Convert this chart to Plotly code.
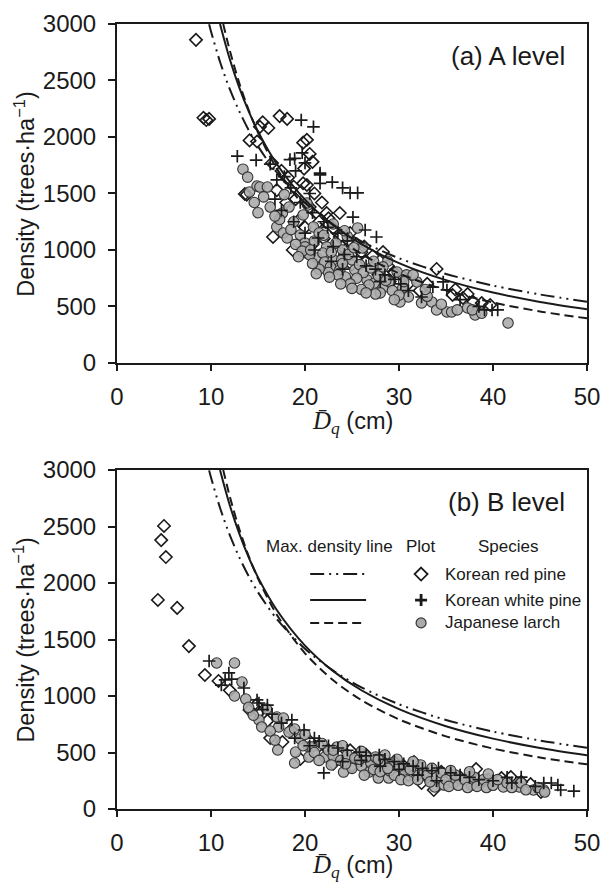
import plotly.graph_objects as go

# ---------------- maximum density lines ----------------
line_rp_d = [9.8, 10, 11, 12, 13, 14, 15, 17, 20, 23, 26, 30, 35, 40, 45, 50]
line_rp_n = [2997, 2934, 2655, 2423, 2229, 2062, 1918, 1682, 1418, 1225, 1077, 927, 788, 685, 606, 542]
line_wp_d = [10.96, 11, 12, 13, 14, 15, 17, 20, 23, 26, 30, 35, 40, 45, 50]
line_wp_n = [3000, 2987, 2688, 2439, 2229, 2050, 1761, 1446, 1220, 1051, 884, 733, 623, 540, 475]
line_jl_d = [11.3, 12, 13, 14, 15, 17, 20, 23, 26, 30, 35, 40, 45, 50]
line_jl_n = [3000, 2765, 2479, 2241, 2040, 1720, 1378, 1139, 964, 793, 643, 535, 456, 395]

# ---------------- (a) A level plots ----------------
a_rp_d = [8.4, 9.2, 9.5, 9.8, 14.1, 14.9, 15.2, 15.5, 16.1, 17.3, 18.1, 20.2, 19.8, 20.5, 20.8, 19.9,
          16.5, 17.0, 13.8, 19.8, 18.2, 17.5, 18.8, 20.2, 21.0, 19.0, 18.0, 16.6, 18.7, 13.6, 20.5, 21.8,
          22.3, 23.7, 23.0, 23.7, 24.8, 22.5, 21.5, 20.0, 19.3, 25.5, 26.0, 27.2, 28.3, 26.5, 25.0, 24.3,
          28.8, 29.5, 30.5, 31.0, 29.0, 27.8, 34.0, 35.7, 36.8, 37.9, 38.8, 39.7, 37.3, 36.0, 33.0, 32.2,
          26.3, 22.0, 24.0, 20.8]
a_rp_n = [2860, 2170, 2150, 2160, 1970, 1960, 2090, 2130, 2080, 2185, 2160, 1975, 1950, 1850, 1780, 1720,
          1770, 1530, 1490, 1590, 1640, 1700, 1560, 1575, 1500, 1450, 1420, 1115, 1000, 1495, 1380, 1420,
          1327, 1327, 1195, 1115, 1150, 1280, 1250, 1200, 1260, 1050, 980, 947, 982, 900, 870, 1000,
          860, 800, 760, 700, 720, 780, 832, 602, 575, 540, 530, 513, 610, 650, 700, 640,
          1030, 1100, 930, 1050]

a_wp_d = [12.8, 14.8, 16.3, 17.0, 18.4, 18.9, 19.6, 20.9, 19.7, 20.0, 21.6, 21.6, 22.9, 24.0, 24.8, 25.6,
          21.6, 20.5, 19.0, 17.8, 18.5, 19.5, 20.8, 22.0, 21.4, 23.0, 24.2, 25.1, 26.4, 27.6, 22.4, 23.5,
          24.5, 25.5, 26.5, 27.5, 28.5, 29.5, 30.2, 28.0, 31.0, 33.6, 32.4, 34.7, 35.1, 39.1, 39.9, 40.5,
          38.5, 36.5, 17.5, 18.8, 20.0, 21.0, 16.8, 22.8, 24.0]
a_wp_n = [1830, 1795, 1760, 1620, 1800, 1810, 2150, 2090, 1860, 1770, 1680, 1590, 1600, 1550, 1505, 1505,
          1665, 1500, 1700, 1650, 1550, 1420, 1330, 1250, 1106, 1030, 960, 1290, 1177, 1115, 1200, 1150,
          1080, 940, 860, 830, 780, 740, 700, 720, 640, 672, 584, 717, 646, 469, 469, 469,
          500, 560, 1350, 1250, 1150, 1000, 1450, 900, 830]

a_jl_d = [13.4, 13.9, 14.1, 14.9, 15.2, 16.0, 16.3, 15.6, 14.6, 17.6, 17.0, 17.7, 18.1, 20.3, 19.5, 20.0,
          20.2, 21.3, 21.9, 22.3, 20.9, 20.2, 20.0, 20.5, 21.9, 22.1, 23.0, 23.9, 25.0, 22.7, 23.7, 24.3,
          25.3, 26.1, 25.6, 26.6, 27.4, 28.3, 29.0, 29.8, 30.4, 31.0, 31.9, 30.1, 32.4, 33.5, 34.0, 35.1,
          35.6, 37.3, 38.1, 41.6, 18.8, 19.0, 18.5, 17.3, 16.8, 19.7, 21.0, 21.5, 22.8, 23.3, 24.0, 24.6,
          25.8, 26.2, 27.0, 27.8, 28.6, 29.3, 30.0, 28.0, 26.8, 25.5, 24.8, 23.5, 22.5, 21.5, 20.8, 27.3,
          28.8, 30.8, 31.5, 33.0, 34.5, 36.2, 37.8, 38.8, 22.0, 23.0, 24.5, 19.8, 18.3, 17.8, 15.0, 26.0,
          27.5, 29.5, 24.0, 25.2, 28.3, 30.5, 32.8, 21.2, 22.6, 23.8, 25.0, 26.5, 19.3, 20.6, 24.2]
a_jl_n = [1715, 1645, 1513, 1566, 1557, 1557, 1380, 1470, 1420, 1327, 1204, 1150, 1106, 1398, 1133, 1062,
          973, 929, 867, 1027, 1204, 1416, 1027, 956, 973, 894, 912, 912, 912, 850, 823, 761,
          823, 1018, 1195, 735, 708, 664, 717, 805, 664, 584, 717, 540, 531, 540, 469, 451,
          451, 487, 425, 354, 1250, 1050, 1180, 1270, 1300, 990, 1080, 1150, 980, 1060, 1000, 960,
          870, 800, 840, 770, 730, 640, 600, 620, 690, 750, 700, 780, 800, 830, 880, 900,
          900, 780, 780, 590, 520, 470, 470, 440, 1130, 1230, 1120, 1310, 1380, 1490, 1330, 650,
          610, 560, 880, 1020, 850, 720, 650, 790, 760, 700, 660, 620, 940, 1000, 1170]

# ---------------- (b) B level plots ----------------
b_rp_d = [5.0, 4.7, 5.2, 4.35, 6.4, 7.65, 9.35, 10.8, 14.1, 15.1, 16.3, 17.6, 19.5, 14.8, 20.5, 21.5,
          22.5, 23.5, 24.8, 25.5, 26.5, 27.5, 28.5, 29.5, 30.5, 31.6, 32.4, 33.7, 34.5, 35.5, 36.5, 38.2,
          40.9, 41.9, 43.0, 44.0, 45.1, 37.5, 39.5, 33.0, 31.0, 29.0, 27.0, 25.0, 23.0, 18.5, 16.0, 12.0]
b_rp_n = [2505, 2380, 2230, 1850, 1780, 1442, 1186, 1133, 876, 858, 628, 593, 442, 920, 600, 560,
          520, 480, 520, 450, 480, 440, 400, 420, 380, 416, 230, 168, 330, 300, 280, 354,
          274, 283, 240, 220, 150, 240, 260, 280, 300, 330, 350, 380, 400, 700, 780, 1050]

b_wp_d = [9.8, 11.9, 11.5, 11.1, 12.2, 13.5, 14.9, 15.1, 16.0, 15.5, 16.5, 18.6, 19.9, 18.9, 21.0, 22.0,
          21.5, 22.5, 23.5, 24.5, 25.8, 26.5, 27.9, 28.5, 29.5, 30.5, 31.5, 32.5, 33.5, 34.2, 35.5, 36.5,
          37.5, 38.5, 40.0, 41.5, 43.0, 45.4, 46.2, 46.9, 47.2, 48.6, 42.0, 44.5, 24.0, 26.0, 28.0, 30.0,
          32.0, 34.0, 20.5, 17.5]
b_wp_n = [1310, 1204, 1142, 1097, 1150, 1071, 965, 938, 920, 880, 840, 788, 699, 628, 628, 319,
          600, 560, 540, 520, 504, 470, 478, 440, 420, 400, 380, 360, 340, 363, 320, 300,
          280, 260, 250, 280, 283, 230, 230, 212, 168, 159, 230, 200, 420, 430, 380, 350,
          300, 250, 560, 760]

b_jl_d = [10.6, 12.5, 13.3, 12.5, 13.7, 15.9, 15.1, 15.4, 17.0, 17.7, 17.2, 18.3, 18.9, 17.1, 19.0, 18.9,
          20.4, 20.4, 20.7, 22.1, 23.4, 24.1, 25.7, 26.8, 27.8, 28.9, 29.2, 28.5, 30.6, 31.6, 32.7, 33.8,
          34.8, 35.8, 36.6, 37.7, 38.7, 39.8, 41.1, 42.8, 44.3, 45.4, 19.5, 20.0, 21.0, 21.5, 22.5, 23.0,
          23.8, 24.5, 25.0, 25.3, 26.0, 26.3, 27.0, 27.3, 28.0, 28.2, 29.0, 29.5, 30.0, 30.2, 31.0, 31.2,
          32.0, 32.3, 33.0, 33.3, 34.0, 34.5, 35.0, 35.3, 36.0, 36.3, 37.0, 37.3, 38.0, 38.3, 39.0, 39.3,
          40.0, 40.5, 41.5, 42.0, 43.0, 43.5, 44.8, 45.5, 16.3, 16.8, 14.5, 14.0, 19.8, 22.8, 24.3, 25.8,
          26.5, 27.5, 28.8, 29.8, 31.5, 33.5, 35.5, 37.5, 39.5, 21.8, 23.0, 24.0, 26.0, 27.8]
b_jl_n = [1292, 1292, 1124, 1000, 973, 885, 788, 726, 814, 805, 726, 681, 708, 522, 504, 407,
          549, 460, 549, 460, 549, 327, 416, 327, 274, 274, 407, 478, 345, 301, 327, 195,
          212, 230, 257, 212, 230, 239, 195, 195, 168, 168, 620, 660, 500, 430, 520, 470,
          430, 480, 360, 450, 380, 300, 410, 350, 330, 420, 340, 300, 380, 260, 250, 350,
          260, 390, 300, 240, 280, 320, 260, 200, 300, 210, 260, 190, 280, 200, 260, 190,
          210, 260, 230, 190, 230, 170, 190, 150, 690, 610, 830, 900, 560, 390, 400, 440,
          460, 460, 360, 440, 420, 360, 340, 330, 310, 580, 520, 560, 510, 440]

# ---------------- text ----------------
species = ["Korean red pine", "Korean white pine", "Japanese larch"]
panel_titles = ["(a) A level", "(b) B level"]
x_ticks = [0, 10, 20, 30, 40, 50]
y_ticks = [0, 500, 1000, 1500, 2000, 2500, 3000]

INK = "#1a1a1a"
SANS = "Liberation Sans"
DASHDOT = "14px,5px,2px,5px,2px,5px"
DASHED = "9px,5px"

fig = go.Figure()

panels = [
    ("x", "y", (a_rp_d, a_rp_n), (a_wp_d, a_wp_n), (a_jl_d, a_jl_n)),
    ("x2", "y2", (b_rp_d, b_rp_n), (b_wp_d, b_wp_n), (b_jl_d, b_jl_n)),
]

for xa, ya, rp, wp, jl in panels:
    fig.add_trace(go.Scatter(
        x=rp[0], y=rp[1], xaxis=xa, yaxis=ya, mode="markers", name=species[0],
        marker=dict(symbol="diamond-open", size=9.5, color=INK, line=dict(width=1.6, color=INK)),
    ))
    fig.add_trace(go.Scatter(
        x=jl[0], y=jl[1], xaxis=xa, yaxis=ya, mode="markers", name=species[2],
        marker=dict(symbol="circle", size=10.5, color="rgba(172,172,172,0.9)",
                    line=dict(width=1.1, color="#333333")),
    ))
    fig.add_trace(go.Scatter(
        x=wp[0], y=wp[1], xaxis=xa, yaxis=ya, mode="markers", name=species[1],
        marker=dict(symbol="cross-thin", size=9, color=INK, line=dict(width=1.7, color=INK)),
    ))
    for d, n, dash in [(line_rp_d, line_rp_n, DASHDOT),
                       (line_wp_d, line_wp_n, "solid"),
                       (line_jl_d, line_jl_n, DASHED)]:
        fig.add_trace(go.Scatter(
            x=d, y=n, xaxis=xa, yaxis=ya, mode="lines",
            line=dict(color=INK, width=2, dash=dash, shape="spline", smoothing=0.8),
        ))

axis_common = dict(
    showline=True, linewidth=2, linecolor=INK, mirror=True,
    ticks="outside", tickwidth=2, tickcolor=INK,
    showgrid=False, zeroline=False, automargin=False,
    tickfont=dict(family=SANS, size=24, color=INK),
)
x_common = dict(axis_common, range=[0, 50], tickvals=x_ticks, ticklen=6, ticklabelstandoff=5)
y_common = dict(axis_common, range=[0, 3000], tickvals=y_ticks, ticklen=7, ticklabelstandoff=7)

fig.update_layout(
    width=601, height=883,
    margin=dict(l=117, r=14, t=24, b=74),
    paper_bgcolor="white", plot_bgcolor="white",
    showlegend=False,
    xaxis=dict(x_common, domain=[0, 1], anchor="y"),
    yaxis=dict(y_common, domain=[0.5682, 1], anchor="x"),
    xaxis2=dict(x_common, domain=[0, 1], anchor="y2"),
    yaxis2=dict(y_common, domain=[0, 0.4318], anchor="x2"),
    font=dict(family=SANS, color=INK),
)


def label(xref, yref, x, y, text, size, xanchor="center", **kw):
    return dict(xref=xref, yref=yref, x=x, y=y, text=text, showarrow=False,
                xanchor=xanchor, yanchor="middle",
                font=dict(family=SANS, size=size, color=INK), **kw)


ytitle = "Density (trees·ha<sup>−1</sup>)"
xtitle = ('<span style="font-family:Liberation Serif;font-size:25px"><i>D̄</i><sub><i>q</i></sub></span> (cm)')
ann = []
for ypos in (0.784, 0.216):
    ann.append(label("paper", "paper", -0.1975, ypos, ytitle, 23.5, textangle=-90))
for ypos in (0.492, -0.0735):
    ann.append(label("paper", "paper", 0.5, ypos, xtitle, 23.5))
for (xr, yr), title in zip([("x domain", "y domain"), ("x2 domain", "y2 domain")], panel_titles):
    ann.append(label(xr, yr, 0.957, 0.906, title, 26, xanchor="right"))

# Legend table inside panel (b)
LX, LY = "x2 domain", "y2 domain"
head_y = 0.773
row_y = [0.693, 0.6165, 0.549]
for xc, txt in [(0.453, "Max. density line"), (0.647, "Plot"), (0.832, "Species")]:
    ann.append(label(LX, LY, xc, head_y, txt, 17))
for yy, txt in zip(row_y, species):
    ann.append(label(LX, LY, 0.694, yy, txt, 17, xanchor="left"))
fig.update_layout(annotations=ann)

shapes = []
for yy, dash in zip(row_y, [DASHDOT, "solid", DASHED]):
    shapes.append(dict(type="line", xref=LX, yref=LY, x0=0.411, x1=0.530, y0=yy, y1=yy,
                       line=dict(color=INK, width=2, dash=dash)))
mx = 0.647
px_x, px_y = 1 / 470, 1 / 339
dx, dy = 6.5 * px_x, 6.5 * px_y
y0 = row_y[0]
shapes.append(dict(type="path", xref=LX, yref=LY,
                   path=f"M {mx},{y0 + dy} L {mx + dx},{y0} L {mx},{y0 - dy} L {mx - dx},{y0} Z",
                   line=dict(color=INK, width=1.8)))
y1 = row_y[1]
cx, cy = 6 * px_x, 6 * px_y
shapes.append(dict(type="path", xref=LX, yref=LY,
                   path=f"M {mx - cx},{y1} L {mx + cx},{y1} M {mx},{y1 - cy} L {mx},{y1 + cy}",
                   line=dict(color=INK, width=2.8)))
y2 = row_y[2]
r_x, r_y = 5 * px_x, 5 * px_y
shapes.append(dict(type="circle", xref=LX, yref=LY, x0=mx - r_x, x1=mx + r_x, y0=y2 - r_y, y1=y2 + r_y,
                   fillcolor="#aaaaaa", line=dict(color="#333333", width=1.2)))
fig.update_layout(shapes=shapes)

fig.write_html("out.html")
